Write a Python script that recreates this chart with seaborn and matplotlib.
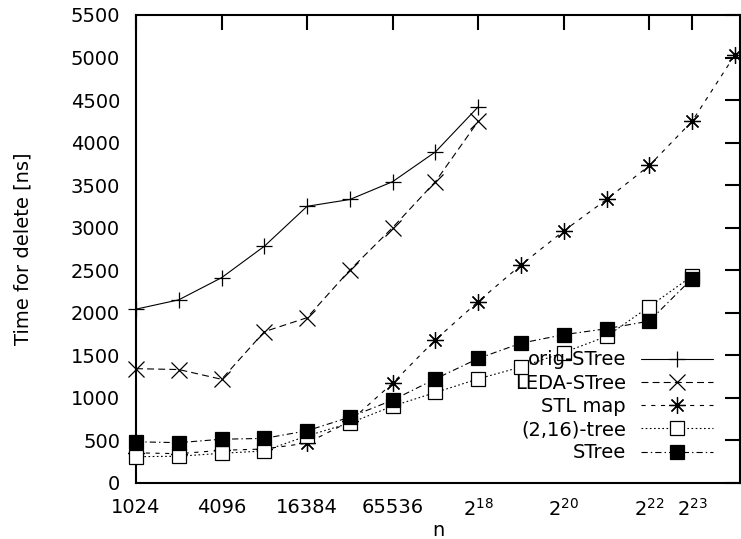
import matplotlib
matplotlib.use("Agg")
import matplotlib.pyplot as plt
import seaborn as sns
import pandas as pd
import numpy as np

# ---- data ----
n_all = [2**k for k in range(10, 25)]
orig_stree = [2040, 2150, 2410, 2780, 3250, 3330, 3540, 3890, 4420]
leda_stree = [1340, 1330, 1215, 1775, 1940, 2500, 3000, 3540, 4250]
stl_map = [350, 340, 380, 395, 465, 720, 1170, 1680, 2130, 2560, 2960, 3330, 3730, 4250, 5030]
tree_2_16 = [305, 310, 345, 372, 550, 700, 900, 1060, 1220, 1360, 1530, 1720, 2070, 2430]
stree = [480, 470, 510, 520, 610, 770, 970, 1220, 1460, 1640, 1740, 1810, 1900, 2400]

series_names = ["orig-STree", "LEDA-STree", "STL map", "(2,16)-tree", "STree"]
series_vals = [orig_stree, leda_stree, stl_map, tree_2_16, stree]

xtick_vals = [2**10, 2**12, 2**14, 2**16, 2**18, 2**20, 2**22, 2**23]
xtick_labels = ["1024", "4096", "16384", "65536",
                r"$\mathregular{2^{18}}$", r"$\mathregular{2^{20}}$",
                r"$\mathregular{2^{22}}$", r"$\mathregular{2^{23}}$"]
ytick_vals = list(range(0, 5501, 500))

# ---- style ----
sns.set_theme(style="white")
plt.rcParams["font.family"] = ["DejaVu Sans"]
plt.rcParams["mathtext.fontset"] = "dejavusans"
plt.rcParams["lines.scale_dashes"] = False
plt.rcParams["text.color"] = "black"
plt.rcParams["axes.labelcolor"] = "black"
plt.rcParams["legend.labelcolor"] = "black"

FS = 14

styles = [
    dict(marker="+", linestyle="-", markersize=12, mfc="black"),
    dict(marker="x", linestyle=(0, (5, 3)), markersize=11, mfc="black"),
    dict(marker=(8, 2, 0), linestyle=(0, (3, 4)), markersize=12, mfc="black"),
    dict(marker="s", linestyle=(0, (1.2, 1.8)), markersize=10.5, mfc="white"),
    dict(marker="s", linestyle=(0, (4.5, 2.2, 1, 2.2)), markersize=10.5, mfc="black"),
]

fig = plt.figure(figsize=(7.41, 5.39), dpi=100)
ax = fig.add_axes([136 / 741, 1 - 482.6 / 539, (740 - 136) / 741, (482.6 - 15) / 539])

for name, vals, st in zip(series_names, series_vals, styles):
    df = pd.DataFrame({"n": n_all[:len(vals)], "t": vals})
    sns.lineplot(data=df, x="n", y="t", ax=ax, color="black", linewidth=0.8,
                 marker=st["marker"], linestyle=st["linestyle"],
                 markersize=st["markersize"], markerfacecolor=st["mfc"],
                 markeredgecolor="black", markeredgewidth=0.9,
                 label=name, clip_on=False, zorder=3)

ax.set_xscale("log", base=2)
ax.set_xlim(2**10, 2**24.12)
ax.set_ylim(0, 5500)
ax.set_xticks(xtick_vals)
ax.set_xticklabels(xtick_labels)
ax.xaxis.set_minor_locator(matplotlib.ticker.NullLocator())
ax.set_yticks(ytick_vals)

for s in ax.spines.values():
    s.set_linewidth(1.5)
    s.set_color("black")

ax.tick_params(axis="both", which="major", direction="in", length=11, width=1.5,
               top=True, right=True, labelsize=FS, colors="black")
ax.tick_params(axis="x", pad=11)
ax.tick_params(axis="y", pad=11.5)

ax.set_xlabel("n", fontsize=FS, color="black")
ax.set_ylabel("Time for delete [ns]", fontsize=FS, color="black")
ax.xaxis.set_label_coords(0.5, -0.082)
ax.yaxis.set_label_coords(-0.172, 0.5)

leg = ax.legend(loc="lower right", bbox_to_anchor=(0.955, 0.043), frameon=False,
                markerfirst=False, fontsize=FS, handlelength=3.7, handletextpad=0.77,
                labelspacing=0.22, borderpad=0, borderaxespad=0, labelcolor="black")

fig.savefig("out.png", dpi=100)
